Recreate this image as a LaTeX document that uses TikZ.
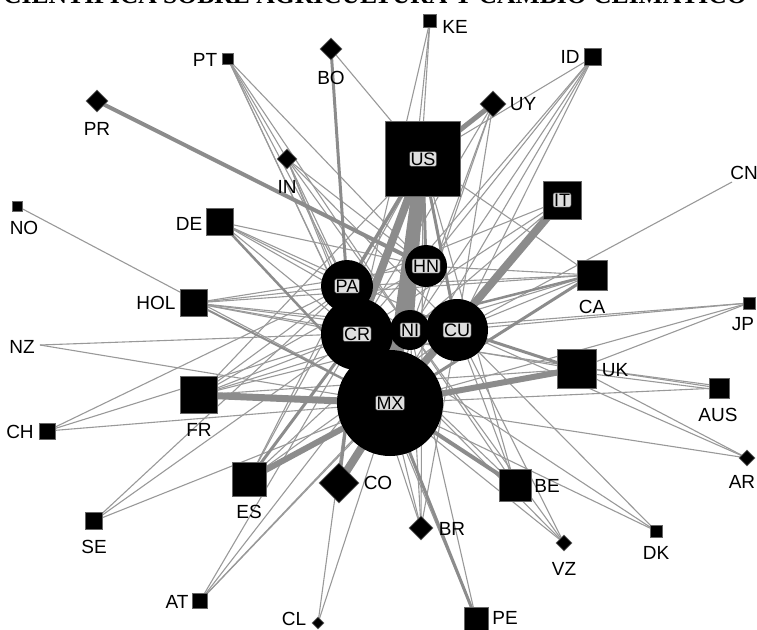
\documentclass[tikz,border=0pt]{standalone}
\usepackage{fontspec}
\setmainfont{Liberation Sans}
\newfontfamily\titlefont{Liberation Serif}
\usetikzlibrary{shapes.geometric}
\pgfdeclarelayer{bg}
\pgfsetlayers{bg,main}

\begin{document}
\begin{tikzpicture}[x=1pt,y=-1pt,
  sq/.style={rectangle, draw=black!60, fill=black, line width=0.6pt, minimum size=#1pt, inner sep=0pt},
  dm/.style={diamond, draw=black!60, fill=black, line width=0.6pt, minimum size=#1pt, inner sep=0pt},
  ci/.style={circle, fill=black, minimum size=#1pt, inner sep=0pt},
  lbl/.style={font=\fontsize{19}{19}\selectfont, inner sep=0pt},
  tag/.style={font=\fontsize{18}{18}\selectfont, fill=black!13, draw=black!80, line width=0.5pt,
              rounded corners=2pt, inner xsep=1pt, inner ysep=1pt},
  ed/.style={draw=black!40, line width=1.1pt},
  ew/.style={draw=black!45, line width=#1pt},
]
\useasboundingbox (0,0) rectangle (757,629);

% heading, only its lower part falls inside the page
\begin{scope}
\clip (0,0) rectangle (757,629);
\node[anchor=base west, inner sep=0pt, font=\titlefont\bfseries\fontsize{25.6}{26}\selectfont]
  (title) at (3,4) {CIENTÍFICA SOBRE AGRICULTURA Y CAMBIO CLIMÁTICO};
\end{scope}

% ---- country markers: squares
\node[sq=13] (KE)  at (430,21)  {};
\node[sq=11] (PT)  at (228,59)  {};
\node[sq=17] (ID)  at (593,57)  {};
\node[sq=10] (NO)  at (17,206)  {};
\node[sq=27] (DE)  at (220,222) {};
\node[sq=27] (HOL) at (194,303) {};
\node[sq=30] (CA)  at (592,275) {};
\node[sq=12] (JP)  at (749,303) {};
\node[sq=39] (UK)  at (577,369) {};
\node[sq=20] (AUS) at (719,388) {};
\node[sq=37] (FR)  at (199,395) {};
\node[sq=16] (CH)  at (47,431)  {};
\node[sq=34] (ES)  at (249,479) {};
\node[sq=17] (SE)  at (94,521)  {};
\node[sq=32] (BE)  at (515,485) {};
\node[sq=12] (DK)  at (656,531) {};
\node[sq=15] (AT)  at (200,601) {};
\node[sq=24] (PE)  at (476,619) {};
% ---- diamonds
\node[dm=22] (BO)  at (331,49)  {};
\node[dm=22] (PR)  at (97,101)  {};
\node[dm=26] (UY)  at (493,104) {};
\node[dm=20] (IN)  at (287,159) {};
\node[dm=16] (AR)  at (747,458) {};
\node[dm=40] (CO)  at (339,483) {};
\node[dm=24] (BR)  at (421,528) {};
\node[dm=16] (VZ)  at (564,543) {};
\node[dm=12] (CL)  at (318,623) {};
% ---- unmarked ends
\coordinate (CN) at (732,182);
\coordinate (NZ) at (40,345);
% ---- circles of the core
\node[ci=42]  (HN) at (426,266) {};
\node[ci=52]  (PA) at (347,286) {};
\node[ci=72]  (CR) at (357,334) {};
\node[ci=40]  (NI) at (410,330) {};
\node[ci=62]  (CU) at (457,330) {};
\node[ci=106] (MX) at (390,403) {};
% ---- large squares
\node[sq=75] (US) at (423,159) {};
\node[sq=38] (IT) at (562,200) {};

% ---- connectors
\begin{pgfonlayer}{bg}
\foreach \a/\b in {KE/CR,KE/MX,KE/NI,
  PT/CR,PT/PA,PT/MX,PT/NI,PT/IN,PT/HN,
  BO/US,
  ID/US,ID/MX,ID/CR,ID/CU,ID/NI,ID/HN,
  UY/CU,UY/NI,UY/CR,UY/MX,
  IN/MX,IN/CR,IN/CU,IN/NI,IN/PA,IN/HN,
  IT/CR,IT/PA,IT/NI,IT/CU,
  CN/CU,NO/MX,
  DE/CR,DE/CU,DE/NI,DE/PA,DE/HN,
  HOL/CR,HOL/CU,HOL/NI,HOL/PA,HOL/HN,HOL/CA,HOL/UK,
  CA/CU,CA/NI,CA/PA,CA/HN,CA/US,
  JP/MX,JP/CR,JP/UK,JP/CU,
  NZ/CU,NZ/MX,
  CH/PA,CH/CR,CH/MX,
  FR/CR,FR/CU,FR/NI,FR/PA,FR/HN,FR/US,FR/UK,
  ES/CU,ES/NI,ES/PA,ES/US,
  SE/MX,SE/CR,SE/PA,
  AT/MX,AT/CR,AT/CU,AT/NI,
  CL/CR,CL/MX,
  BR/MX,BR/CR,BR/NI,BR/CU,BR/US,
  PE/CR,PE/NI,
  BE/CR,BE/CU,BE/NI,BE/US,
  VZ/MX,VZ/CU,VZ/CR,VZ/NI,
  DK/MX,DK/CR,DK/CU,
  AR/UK,AR/MX,AR/CU,
  AUS/MX,AUS/CR}
  \draw[ed] (\a.center) -- (\b.center);
\draw[ed] ([yshift=-2pt]AUS.center) -- ([yshift=-3pt]UK.center);
\draw[ed] ([yshift=2pt]AUS.center) -- ([yshift=2pt]UK.center);
\foreach \a/\b/\w in {US/MX/14,US/CR/8,US/NI/6,US/PA/3.5,US/CU/3,US/HN/3,
  IT/MX/8,UY/US/5,PR/HN/4,FR/MX/7,ES/MX/6,ES/CR/3,UK/MX/6,UK/CU/3,
  CO/MX/8,CO/CR/3,BE/MX/4,CA/MX/3,CA/CR/2.5,PE/MX/3,BO/PA/3,DE/MX/2.5,HOL/MX/2}
  \draw[ew=\w] (\a.center) -- (\b.center);
\end{pgfonlayer}

% ---- labels inside the core nodes
\foreach \n in {US,IT,HN,PA,CR,NI,CU,MX}
  \node[tag] (\n-t) at (\n) {\n};

% ---- outer labels
\node[lbl] (KE-t)  at (455,27)  {KE};
\node[lbl] (PT-t)  at (205,60)  {PT};
\node[lbl] (BO-t)  at (331,78)  {BO};
\node[lbl] (ID-t)  at (570,57)  {ID};
\node[lbl] (PR-t)  at (97,129)  {PR};
\node[lbl] (UY-t)  at (523,104) {UY};
\node[lbl] (IN-t)  at (287,187) {IN};
\node[lbl] (CN-t)  at (744,173) {CN};
\node[lbl] (NO-t)  at (24,228)  {NO};
\node[lbl] (DE-t)  at (189,224) {DE};
\node[lbl] (CA-t)  at (592,307) {CA};
\node[lbl] (HOL-t) at (156,303) {HOL};
\node[lbl] (JP-t)  at (743,324) {JP};
\node[lbl] (NZ-t)  at (22,347)  {NZ};
\node[lbl] (UK-t)  at (615,370) {UK};
\node[lbl] (AUS-t) at (718,415) {AUS};
\node[lbl] (FR-t)  at (199,430) {FR};
\node[lbl] (CH-t)  at (20,432)  {CH};
\node[lbl] (AR-t)  at (742,482) {AR};
\node[lbl] (CO-t)  at (378,483) {CO};
\node[lbl] (ES-t)  at (249,512) {ES};
\node[lbl] (BE-t)  at (547,486) {BE};
\node[lbl] (BR-t)  at (452,529) {BR};
\node[lbl] (SE-t)  at (94,547)  {SE};
\node[lbl] (VZ-t)  at (564,569) {VZ};
\node[lbl] (DK-t)  at (656,553) {DK};
\node[lbl] (AT-t)  at (177,602) {AT};
\node[lbl] (CL-t)  at (294,619) {CL};
\node[lbl] (PE-t)  at (505,618) {PE};
\end{tikzpicture}
\end{document}
